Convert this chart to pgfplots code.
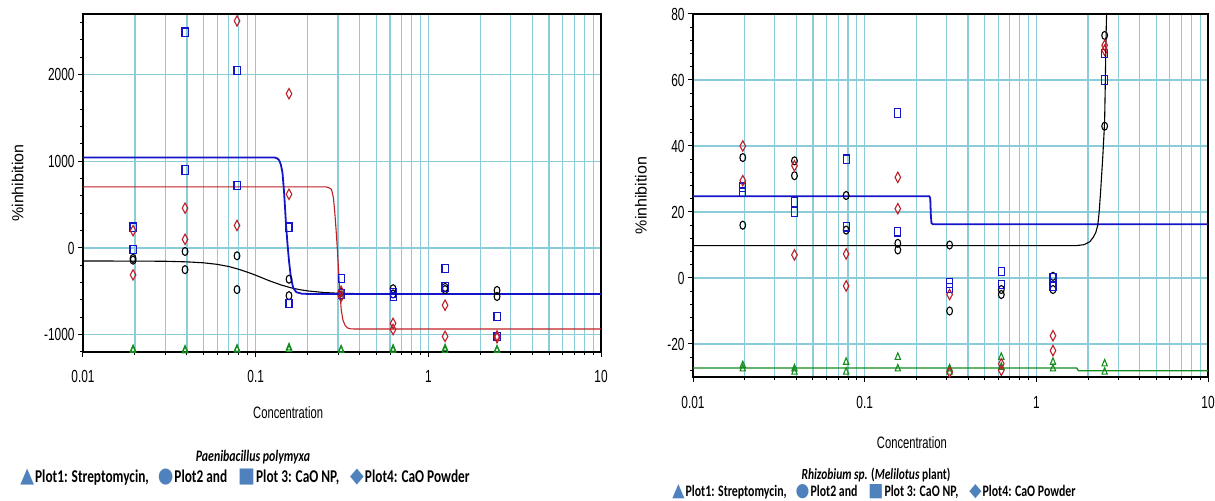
\documentclass[border=0pt]{standalone}
\usepackage{pgfplots}
\pgfplotsset{compat=1.18}
\usepackage{fontspec}
\setmainfont{Liberation Sans}
\newfontfamily\axfont[FakeStretch=0.68]{Liberation Sans}
\newfontfamily\ylabfont{Liberation Sans}
\newfontfamily\legfont[FakeStretch=0.74]{Carlito}
\newfontfamily\symfont[FakeStretch=0.85]{DejaVu Sans}

\definecolor{gridc}{RGB}{138,204,216}
\definecolor{pblue}{RGB}{20,20,200}
\definecolor{pred}{RGB}{190,30,40}
\definecolor{pgreen}{RGB}{20,140,30}
\definecolor{lgnd}{RGB}{79,129,189}

\newcommand{\legsym}[1]{{\symfont\fontsize{1.17em}{1.17em}\selectfont\textcolor{lgnd}{#1}}}
\newcommand{\legendrow}{%
  \legsym{▲}\hspace{1bp}{\legfont\bfseries Plot1: Streptomycin,}\hspace{9bp}%
  \legsym{●}\hspace{1bp}{\legfont\bfseries Plot2 and}\hspace{11bp}%
  \legsym{■}\hspace{1bp}{\legfont\bfseries Plot 3: CaO NP,}\hspace{11bp}%
  \legsym{◆}\hspace{1bp}{\legfont\bfseries Plot4: CaO Powder}}

\begin{document}
\begin{tikzpicture}
\path[use as bounding box] (0,0) rectangle (1215bp,501bp);

% ---------------- Paenibacillus polymyxa ----------------
\begin{axis}[
  scale only axis,
  at={(83bp,149bp)}, anchor=south west,
  width=518bp, height=338bp,
  xmode=log,
  xmin=0.01, xmax=10,
  xtick={0.01,0.1,1,10},
  xticklabels={0.01,0.1,1,10},
  minor xtick={0.02,0.03,0.04,0.05,0.06,0.07,0.08,0.09,0.2,0.3,0.4,0.5,0.6,0.7,0.8,0.9,2,3,4,5,6,7,8,9},
  ymin=-1200, ymax=2700,
  ytick={-1000,0,1000,2000},
  yticklabels={-1000,0,1000,2000},
  minor ytick={-1200,-800,-600,-400,-200,200,400,600,800,1200,1400,1600,1800,2200,2400,2600},
  xmajorgrids, xminorgrids, ymajorgrids,
  major grid style={gridc, line width=1.1bp},
  minor grid style={gridc, line width=1.1bp},
  axis line style={black, line width=1.3bp},
  tick pos=left,
  tick align=outside,
  major tick length=5bp,
  minor tick length=3bp,
  tick style={black, line width=1bp},
  xticklabel style={font=\axfont\fontsize{17.5bp}{20bp}\selectfont, yshift=-10bp},
  yticklabel style={font=\axfont\fontsize{17.5bp}{20bp}\selectfont},
  xlabel={Concentration},
  xlabel style={font=\axfont\fontsize{16.5bp}{19bp}\selectfont, at={(axis description cs:0.396,-0.18)}, anchor=center},
  ylabel={\%inhibition},
  ylabel style={font=\ylabfont\fontsize{16bp}{19bp}\selectfont, at={(axis description cs:-0.126,0.5)}, anchor=center},
]
% fitted curves
\addplot[black, line width=1.1bp] coordinates {
  (0.01,-150)(0.02,-151)(0.03,-153)(0.04,-160)(0.05,-171)(0.06,-189)
  (0.07,-214)(0.08,-246)(0.09,-280)(0.1,-314)(0.12,-378)(0.14,-426)
  (0.16,-459)(0.18,-481)(0.2,-495)(0.25,-514)(0.3,-522)(0.4,-527)
  (0.6,-529)(1,-530)(10,-530)};
\addplot[pred, line width=1.1bp] coordinates {
  (0.01,705)(0.255,705)(0.265,697)(0.275,675)(0.282,580)(0.287,420)
  (0.292,220)(0.297,0)(0.302,-250)(0.307,-500)(0.313,-710)(0.32,-830)
  (0.33,-895)(0.34,-922)(0.355,-933)(0.38,-935)(10,-935)};
\addplot[pblue, line width=1.8bp] coordinates {
  (0.01,1045)(0.128,1045)(0.133,1035)(0.137,1010)(0.14,960)(0.143,870)
  (0.146,650)(0.148,460)(0.15,260)(0.153,40)(0.156,-150)(0.16,-340)
  (0.165,-460)(0.172,-510)(0.185,-527)(0.2,-530)(10,-530)};
% Plot1: Streptomycin
\addplot[only marks, pgreen, mark=triangle, mark size=4.3bp, mark options={solid, line width=1.1bp, xscale=0.72}] coordinates {
  (0.0195,-1180)(0.0195,-1170)(0.039,-1185)(0.039,-1175)
  (0.078,-1175)(0.078,-1165)(0.156,-1150)(0.156,-1170)
  (0.3125,-1180)(0.3125,-1175)(0.625,-1165)(0.625,-1180)
  (1.25,-1160)(1.25,-1180)(2.5,-1175)(2.5,-1180)};
% Plot2
\addplot[only marks, black, mark=o, mark size=4bp, mark options={solid, line width=1.1bp, xscale=0.72}] coordinates {
  (0.0195,-120)(0.0195,-140)(0.039,-40)(0.039,-250)
  (0.078,-90)(0.078,-480)(0.156,-360)(0.156,-550)
  (0.3125,-515)(0.3125,-545)(0.625,-470)(0.625,-530)
  (1.25,-455)(1.25,-480)(2.5,-490)(2.5,-560)};
% Plot3: CaO NP
\addplot[only marks, pblue, mark=square, mark size=4.2bp, mark options={solid, line width=1.1bp, xscale=0.72}] coordinates {
  (0.0195,240)(0.0195,-20)(0.039,2490)(0.039,900)
  (0.078,2050)(0.078,720)(0.156,240)(0.156,-640)
  (0.3125,-350)(0.3125,-530)(0.625,-520)(0.625,-560)
  (1.25,-235)(1.25,-450)(2.5,-790)(2.5,-1020)};
% Plot4: CaO powder
\addplot[only marks, pred, mark=diamond, mark size=5.2bp, mark options={solid, line width=1.1bp, xscale=0.72}] coordinates {
  (0.0195,200)(0.0195,-310)(0.039,460)(0.039,100)
  (0.078,2620)(0.078,260)(0.156,1780)(0.156,620)
  (0.3125,-500)(0.3125,-560)(0.625,-870)(0.625,-940)
  (1.25,-660)(1.25,-1020)(2.5,-1035)(2.5,-1015)};
\end{axis}

% ---------------- Rhizobium sp. ----------------
\begin{axis}[
  scale only axis,
  at={(693bp,124bp)}, anchor=south west,
  width=515bp, height=363bp,
  xmode=log,
  xmin=0.01, xmax=10,
  xtick={0.01,0.1,1,10},
  xticklabels={0.01,0.1,1,10},
  minor xtick={0.02,0.03,0.04,0.05,0.06,0.07,0.08,0.09,0.2,0.3,0.4,0.5,0.6,0.7,0.8,0.9,2,3,4,5,6,7,8,9},
  ymin=-30, ymax=80,
  ytick={-20,0,20,40,60,80},
  yticklabels={-20,0,20,40,60,80},
  minor ytick={-28,-24,-16,-12,-8,-4,4,8,12,16,24,28,32,36,44,48,52,56,64,68,72,76},
  xmajorgrids, xminorgrids, ymajorgrids,
  major grid style={gridc, line width=1.1bp},
  minor grid style={gridc, line width=1.1bp},
  axis line style={black, line width=1.3bp},
  tick pos=left,
  tick align=outside,
  major tick length=5bp,
  minor tick length=3bp,
  tick style={black, line width=1bp},
  xticklabel style={font=\axfont\fontsize{17.5bp}{20bp}\selectfont, yshift=-11bp},
  yticklabel style={font=\axfont\fontsize{17.5bp}{20bp}\selectfont},
  xlabel={Concentration},
  xlabel style={font=\axfont\fontsize{16.5bp}{19bp}\selectfont, at={(axis description cs:0.425,-0.182)}, anchor=center},
  ylabel={\%inhibition},
  ylabel style={font=\ylabfont\fontsize{16bp}{19bp}\selectfont, at={(axis description cs:-0.101,0.5)}, anchor=center},
]
% fitted curves
\addplot[pgreen, line width=1.3bp] coordinates {
  (0.01,-27.3)(1.72,-27.3)(1.76,-28.1)(10,-28.1)};
\addplot[pblue, line width=1.8bp] coordinates {
  (0.01,24.8)(0.238,24.8)(0.241,24.2)(0.243,19)(0.245,16.6)(0.25,16.3)(10,16.3)};
\addplot[black, line width=1.1bp] coordinates {
  (0.01,9.8)(1.7,9.8)(1.9,10.1)(2.05,11)(2.15,12.4)(2.22,13.8)(2.28,16)
  (2.32,19.7)(2.36,25)(2.4,31)(2.44,37)(2.48,44)(2.5,48)(2.52,58)
  (2.54,70)(2.56,78)(2.58,84)};
% Plot1: Streptomycin
\addplot[only marks, pgreen, mark=triangle, mark size=4.3bp, mark options={solid, line width=1.1bp, xscale=0.72}] coordinates {
  (0.0195,-26.5)(0.0195,-27.5)(0.039,-28.5)(0.039,-27.5)
  (0.078,-25.5)(0.078,-28.5)(0.156,-24)(0.156,-27.5)
  (0.3125,-27.5)(0.3125,-28.5)(0.625,-24)(0.625,-27)
  (1.25,-25.5)(1.25,-27.5)(2.5,-26)(2.5,-28.5)};
% Plot2
\addplot[only marks, black, mark=o, mark size=4bp, mark options={solid, line width=1.1bp, xscale=0.72}] coordinates {
  (0.0195,36.5)(0.0195,16)(0.039,35.5)(0.039,31)
  (0.078,25)(0.078,14.5)(0.156,10.5)(0.156,8.5)
  (0.3125,10)(0.3125,-10)(0.625,-3.5)(0.625,-5)
  (1.25,0.5)(1.25,-3.5)(2.5,73.5)(2.5,46)};
% Plot3: CaO NP
\addplot[only marks, pblue, mark=square, mark size=4.2bp, mark options={solid, line width=1.1bp, xscale=0.72}] coordinates {
  (0.0195,26)(0.0195,27.5)(0.039,23)(0.039,20)
  (0.078,36)(0.078,15.5)(0.156,50)(0.156,14)
  (0.3125,-1.5)(0.3125,-3)(0.625,2)(0.625,-2)
  (1.25,0)(1.25,-2.5)(2.5,68)(2.5,60)};
% Plot4: CaO powder
\addplot[only marks, pred, mark=diamond, mark size=5.2bp, mark options={solid, line width=1.1bp, xscale=0.72}] coordinates {
  (0.0195,40)(0.0195,29.5)(0.039,34)(0.039,7)
  (0.078,7.3)(0.078,-2.4)(0.156,30.5)(0.156,21)
  (0.3125,-5)(0.3125,-28.5)(0.625,-26)(0.625,-28)
  (1.25,-17.5)(1.25,-22)(2.5,70.5)(2.5,69)};
\end{axis}

% captions and key rows under each panel
\node[font=\legfont\bfseries\itshape\fontsize{16bp}{19bp}\selectfont] at (253bp,44bp) {Paenibacillus polymyxa};
\node[font=\fontsize{18bp}{21bp}\selectfont] at (245bp,24bp) {\legendrow};
\node[font=\legfont\bfseries\fontsize{15.5bp}{18bp}\selectfont] at (876bp,26bp) {\textit{Rhizobium sp.} (\textit{Melilotus} plant)};
\node[font=\fontsize{16bp}{19bp}\selectfont, anchor=base] at (874bp,4.5bp) {\legendrow};
\end{tikzpicture}
\end{document}
